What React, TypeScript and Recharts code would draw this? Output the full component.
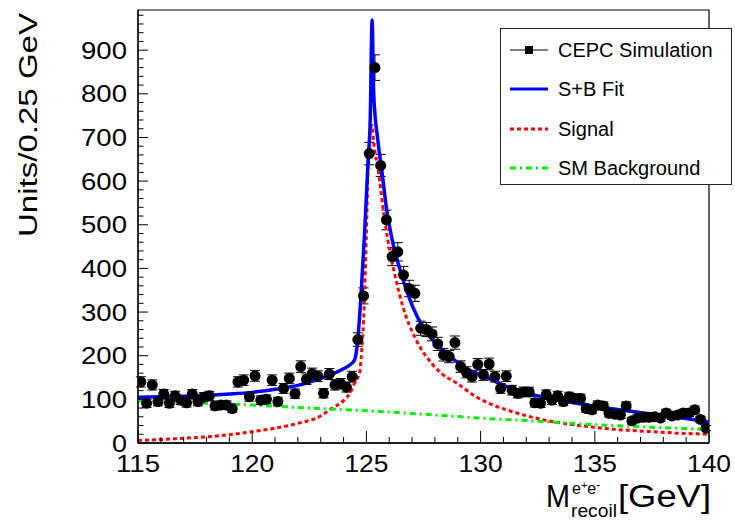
import {
  ComposedChart,
  ErrorBar,
  Legend,
  Line,
  ReferenceArea,
  Scatter,
  XAxis,
  YAxis,
} from "recharts";

// histogram binning: Units / 0.25 GeV
const X_MIN = 115;
const X_MAX = 140;
const BIN_WIDTH = 0.25;
const Y_MAX = 992;

// CEPC simulation, one value per 0.25 GeV bin (115.125 ... 139.875)
const COUNTS = [
  140, 91, 133, 95, 112, 91, 108, 98, 92, 112,
  95, 105, 108, 85, 87, 87, 79, 140, 144, 106,
  154, 98, 100, 144, 95, 125, 148, 113, 175, 146,
  159, 153, 114, 158, 133, 136, 128, 152, 237, 337,
  663, 860, 636, 511, 427, 438, 385, 354, 343, 263,
  260, 250, 227, 202, 198, 230, 175, 162, 152, 180,
  156, 181, 152, 125, 153, 121, 114, 117, 117, 92,
  91, 111, 98, 108, 95, 106, 102, 102, 79, 76,
  87, 85, 68, 66, 64, 85, 51, 57, 59, 59,
  60, 57, 69, 62, 64, 69, 69, 76, 54, 34,
];

// S+B fit curve
const FIT_X = [
  115, 116, 117, 118, 119, 120, 121, 122, 123, 123.5, 124, 124.3, 124.48, 124.62,
  124.77, 124.92, 125.06, 125.17, 125.25, 125.32, 125.5, 125.69, 125.87, 126.13,
  126.52, 127.03, 127.47, 128.2, 128.86, 129.22, 129.81, 130.4, 130.9, 131.5, 132.5,
  133.75, 135, 136.65, 138, 139, 140,
];
const FIT_Y = [
  105, 106, 107, 109, 112, 116, 123, 132, 148, 158, 170, 180, 190, 236,
  343, 481, 632, 747, 969, 800, 694, 618, 541, 465,
  389, 312, 266, 220, 190, 175, 160, 147, 135, 122, 108,
  95, 84, 72, 63, 56, 48,
];

// signal component
const SIG_X = [
  115, 116, 117, 118, 119, 120, 121, 122, 123, 123.5, 124, 124.3, 124.5, 124.7,
  124.8, 124.9, 125, 125.1, 125.25, 125.31, 125.54, 125.72, 125.94, 126.23,
  126.6, 127.18, 127.9, 128.27, 128.93, 129.8, 130.5, 131.5, 132.5, 133.5, 134.5,
  135.5, 136.5, 137.5, 138.5, 139.5, 140,
];
const SIG_Y = [
  6, 8, 11, 14, 19, 26, 34, 45, 62, 80, 97, 116, 140, 160,
  215, 310, 481, 671, 728, 694, 618, 541, 465, 389,
  312, 236, 180, 160, 138, 106, 88, 70, 56, 46, 39,
  33, 29, 26, 23, 21, 20,
];

// SM background component
const BKG_X = [115, 117.5, 120, 122.5, 125, 127.5, 130, 132.5, 135, 137.5, 140];
const BKG_Y = [97, 92, 87, 80, 74, 66, 57, 50, 42, 36, 31];

const X_TICKS = [
  115, 116, 117, 118, 119, 120, 121, 122, 123, 124, 125, 126, 127,
  128, 129, 130, 131, 132, 133, 134, 135, 136, 137, 138, 139, 140,
];
const X_LABELS = [115, 120, 125, 130, 135, 140];
const Y_LABELS = [0, 100, 200, 300, 400, 500, 600, 700, 800, 900];
const Y_MINOR_STEP = 20;

const FONT = '"Liberation Sans", Arial, Helvetica, sans-serif';

const points = COUNTS.map((c, i) => ({
  x: X_MIN + BIN_WIDTH * (i + 0.5),
  y: c,
  err: Math.sqrt(c), // poisson
}));
const toXY = (xs: number[], ys: number[]) => xs.map((x, i) => ({ x, y: ys[i] }));
const fitData = toXY(FIT_X, FIT_Y);
const sigData = toXY(SIG_X, SIG_Y);
const bkgData = toXY(BKG_X, BKG_Y);

const yTicks: number[] = [];
for (let v = 0; v < Y_MAX; v += Y_MINOR_STEP) yTicks.push(v);

const XTick = (props: any) => {
  const { x, y, payload } = props;
  const v = payload.value;
  const major = X_LABELS.includes(v);
  return (
    <g>
      <line x1={x} x2={x} y1={y} y2={y - (major ? 12 : 6)} stroke="#000" strokeWidth={1} />
      {major && (
        <text
          x={x}
          y={y + 29}
          textAnchor="middle"
          fontSize={23}
          fontFamily={FONT}
          fill="#000"
          textLength={44}
          lengthAdjust="spacingAndGlyphs"
        >
          {v}
        </text>
      )}
    </g>
  );
};

const YTick = (props: any) => {
  const { x, y, payload } = props;
  const v = payload.value;
  const major = Y_LABELS.includes(v);
  return (
    <g>
      <line x1={x} x2={x + (major ? 10 : 5.5)} y1={y} y2={y} stroke="#000" strokeWidth={1} />
      {major && (
        <text
          x={x - 11}
          y={y + 8.5}
          textAnchor="end"
          fontSize={24}
          fontFamily={FONT}
          fill="#000"
          textLength={v === 0 ? 15 : 46}
          lengthAdjust="spacingAndGlyphs"
        >
          {v}
        </text>
      )}
    </g>
  );
};

const XTitle = (props: any) => {
  const vb = props.viewBox || { x: 138, y: 443, width: 571 };
  const right = vb.x + vb.width;
  const top = vb.y;
  return (
    <g fontFamily={FONT} fill="#000">
      <text x={right - 163} y={top + 64} fontSize={32} textLength={24} lengthAdjust="spacingAndGlyphs">
        M
      </text>
      <text x={right - 137} y={top + 51} fontSize={16}>
        e
        <tspan dy={-5} fontSize={11}>+</tspan>
        <tspan dy={5} fontSize={16}>e</tspan>
        <tspan dy={-5} fontSize={12}>-</tspan>
      </text>
      <text x={right - 138} y={top + 74} fontSize={19} textLength={46} lengthAdjust="spacingAndGlyphs">
        recoil
      </text>
      <text x={right - 91} y={top + 64} fontSize={31} textLength={93} lengthAdjust="spacingAndGlyphs">
        [GeV]
      </text>
    </g>
  );
};

const YTitle = () => (
  <text
    x={37}
    y={13}
    transform="rotate(-90 37 13)"
    textAnchor="end"
    fontSize={25}
    fontFamily={FONT}
    fill="#000"
    textLength={224}
    lengthAdjust="spacingAndGlyphs"
  >
    Units/0.25 GeV
  </text>
);

const LEGEND_ROWS = [
  { label: "CEPC Simulation", kind: "data" },
  { label: "S+B Fit", kind: "fit" },
  { label: "Signal", kind: "sig" },
  { label: "SM Background", kind: "bkg" },
];
const ROW_Y = [22, 61, 101, 140];

const renderLegend = () => (
  <svg width={233} height={158} style={{ display: "block" }}>
    <rect x={0.5} y={0.5} width={231} height={156} fill="#fff" stroke="#222" strokeWidth={1} />
    {LEGEND_ROWS.map((r, i) => {
      const cy = ROW_Y[i];
      return (
        <g key={r.label}>
          {r.kind === "data" && (
            <g>
              <line x1={10} x2={48} y1={cy} y2={cy} stroke="#000" strokeWidth={1} />
              <rect x={25} y={cy - 4} width={8} height={8} fill="#000" />
            </g>
          )}
          {r.kind === "fit" && <line x1={10} x2={48} y1={cy} y2={cy} stroke="#0000ff" strokeWidth={3} />}
          {r.kind === "sig" && (
            <line x1={10} x2={48} y1={cy} y2={cy} stroke="#ff0000" strokeWidth={3} strokeDasharray="4 3" />
          )}
          {r.kind === "bkg" && (
            <line x1={10} x2={48} y1={cy} y2={cy} stroke="#00ee00" strokeWidth={3} strokeDasharray="6 4 2 4" />
          )}
          <text x={58} y={cy + 7} fontSize={20} fontFamily={FONT} fill="#000">
            {r.label}
          </text>
        </g>
      );
    })}
  </svg>
);

const Dot = (p: any) => <circle cx={p.cx} cy={p.cy} r={5.5} fill="#000" />;

export default function App() {
  return (
    <div
      style={{
        position: "absolute",
        left: 0,
        top: 0,
        width: 735,
        height: 521,
        background: "#fff",
        fontFamily: FONT,
      }}
    >
      <ComposedChart width={735} height={521} margin={{ top: 10, right: 26, bottom: 0, left: 0 }}>
        <XAxis
          dataKey="x"
          type="number"
          domain={[X_MIN, X_MAX]}
          ticks={X_TICKS}
          interval={0}
          allowDataOverflow
          height={78}
          tickSize={0}
          tickMargin={0}
          tickLine={false}
          axisLine={{ stroke: "#000", strokeWidth: 1.5 }}
          tick={XTick}
          label={<XTitle />}
        />
        <YAxis
          type="number"
          domain={[0, Y_MAX]}
          ticks={yTicks}
          interval={0}
          allowDataOverflow
          width={138}
          tickSize={0}
          tickMargin={0}
          tickLine={false}
          axisLine={{ stroke: "#000", strokeWidth: 1.2 }}
          tick={YTick}
          label={<YTitle />}
        />
        <ReferenceArea x1={X_MIN} x2={X_MAX} y1={0} y2={Y_MAX} fill="none" stroke="#000" strokeWidth={1.2} />
        <Scatter data={points} dataKey="y" fill="#000" shape={Dot} isAnimationActive={false}>
          <ErrorBar dataKey="err" direction="y" width={5} stroke="#000" strokeWidth={1} />
        </Scatter>
        <Line
          data={sigData}
          dataKey="y"
          type="monotone"
          stroke="#ff0000"
          strokeWidth={3}
          strokeDasharray="4 3"
          dot={false}
          isAnimationActive={false}
        />
        <Line
          data={bkgData}
          dataKey="y"
          type="monotone"
          stroke="#00ee00"
          strokeWidth={3}
          strokeDasharray="6 4 2 4"
          dot={false}
          isAnimationActive={false}
        />
        <Line
          data={fitData}
          dataKey="y"
          type="monotone"
          stroke="#0000ff"
          strokeWidth={3.5}
          dot={false}
          isAnimationActive={false}
        />
        <Legend
          layout="vertical"
          align="center"
          verticalAlign="middle"
          content={renderLegend}
          wrapperStyle={{ left: 500, top: 28, width: 233, height: 158 }}
        />
      </ComposedChart>
    </div>
  );
}
